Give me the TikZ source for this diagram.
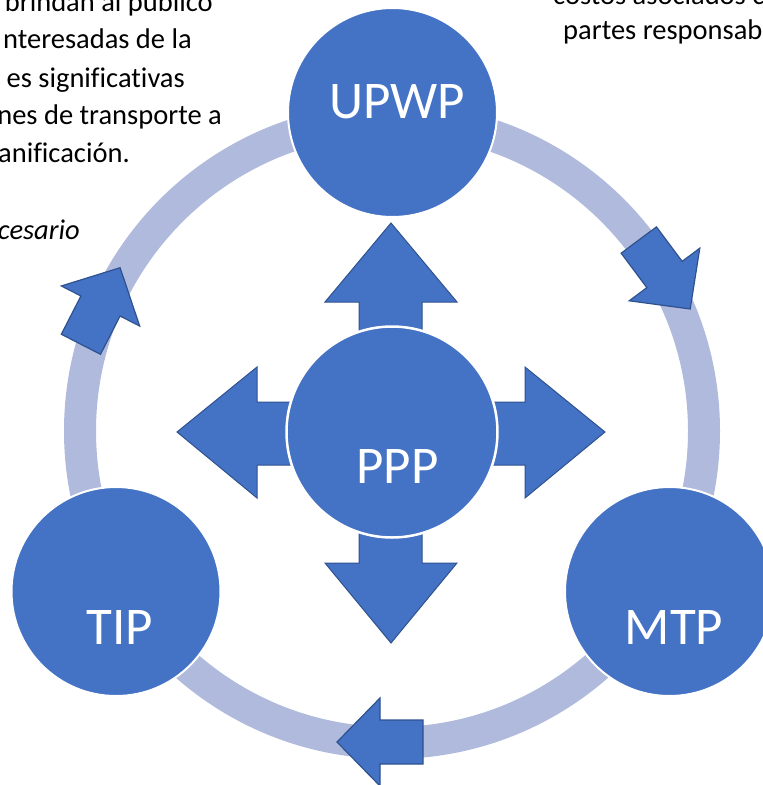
\documentclass[tikz,border=0pt]{standalone}
\usepackage{fontspec}
\setmainfont{Carlito}[Ligatures=NoCommon]
\definecolor{mainblue}{HTML}{4472C4}
\definecolor{edgeblue}{HTML}{2F528F}
\definecolor{ringblue}{RGB}{175,186,220}
\begin{document}
\begin{tikzpicture}[x=1pt,y=-1pt,
  bigcirc/.style={circle,fill=mainblue,draw=white,line width=2pt,minimum size=209pt,inner sep=0pt},
  hubcirc/.style={circle,fill=mainblue,draw=white,line width=2.5pt,minimum size=211pt,inner sep=0pt},
  lbl/.style={text=white,font=\fontsize{53}{53}\selectfont,inner sep=0pt,anchor=base},
  body/.style={font=\fontsize{28.5}{37}\selectfont,inner sep=0pt,text=black},
  blockarrow/.style={fill=mainblue,draw=edgeblue,line width=1pt,line join=miter},
  ringarrow/.style={fill=mainblue,draw=edgeblue,line width=1.2pt,line join=miter},
]
\useasboundingbox (0,0) rectangle (763,785);
\clip (0,0) rectangle (763,785);

% cycle ring
\draw[ringblue,line width=32pt] (392,431) circle[radius=312];

% ring arrows (clockwise)
\path[ringarrow,shift={(664.5,274.5)},rotate=-53.3]
  (-43,-22) -- (0,-22) -- (0,-44) -- (43,0) -- (0,44) -- (0,22) -- (-43,22) -- cycle;
\path[ringarrow,shift={(100.5,306)},rotate=62.9]
  (-43,-22) -- (0,-22) -- (0,-44) -- (43,0) -- (0,44) -- (0,22) -- (-43,22) -- cycle;
\path[ringarrow,shift={(380,742)},rotate=180]
  (-43,-22) -- (0,-22) -- (0,-44) -- (43,0) -- (0,44) -- (0,22) -- (-43,22) -- cycle;

% outer circles
\node[bigcirc] (upwp) at (392.5,112.5) {};
\node[bigcirc] (tip) at (116,591.5) {};
\node[bigcirc] (mtp) at (669.5,591.5) {};
\node[lbl] (upwpt) at (397,118) {UPWP};
\node[lbl] (tipt) at (119.5,644) {TIP};
\node[lbl] (mtpt) at (674,644) {MTP};

% four block arrows from the hub
\path[blockarrow] (359,432) -- (359,302) -- (325,302) -- (391,223) -- (457,302) -- (422,302) -- (422,432) -- cycle;
\path[blockarrow] (359,432) -- (359,563) -- (325,563) -- (391,643) -- (457,563) -- (422,563) -- (422,432) -- cycle;
\path[blockarrow] (392,402) -- (257,402) -- (257,367) -- (177,432) -- (257,498) -- (257,465) -- (392,465) -- cycle;
\path[blockarrow] (392,402) -- (525,402) -- (525,367) -- (605,432) -- (525,498) -- (525,465) -- (392,465) -- cycle;

% hub
\node[hubcirc] (ppp) at (392,432) {};
\node[lbl] (pppt) at (397.5,483) {PPP};

% clipped body text, left
\node[body,anchor=base east] (l1) at (213,11) {brindan al público};
\node[body,anchor=base east] (l2) at (192,48) {nteresadas de la};
\node[body,anchor=base east] (l3) at (185,87) {es significativas};
\node[body,anchor=base east] (l4) at (222,124) {nes de transporte a};
\node[body,anchor=base east] (l5) at (130,162) {anificación.};
\node[body,anchor=base east,font=\fontsize{28.5}{37}\selectfont\itshape] (l6) at (80,239) {cesario};

% clipped body text, right
\node[body,anchor=base west] (r1) at (553,4) {costos asociados c};
\node[body,anchor=base west] (r2) at (563,39) {partes responsab};
\end{tikzpicture}
\end{document}
